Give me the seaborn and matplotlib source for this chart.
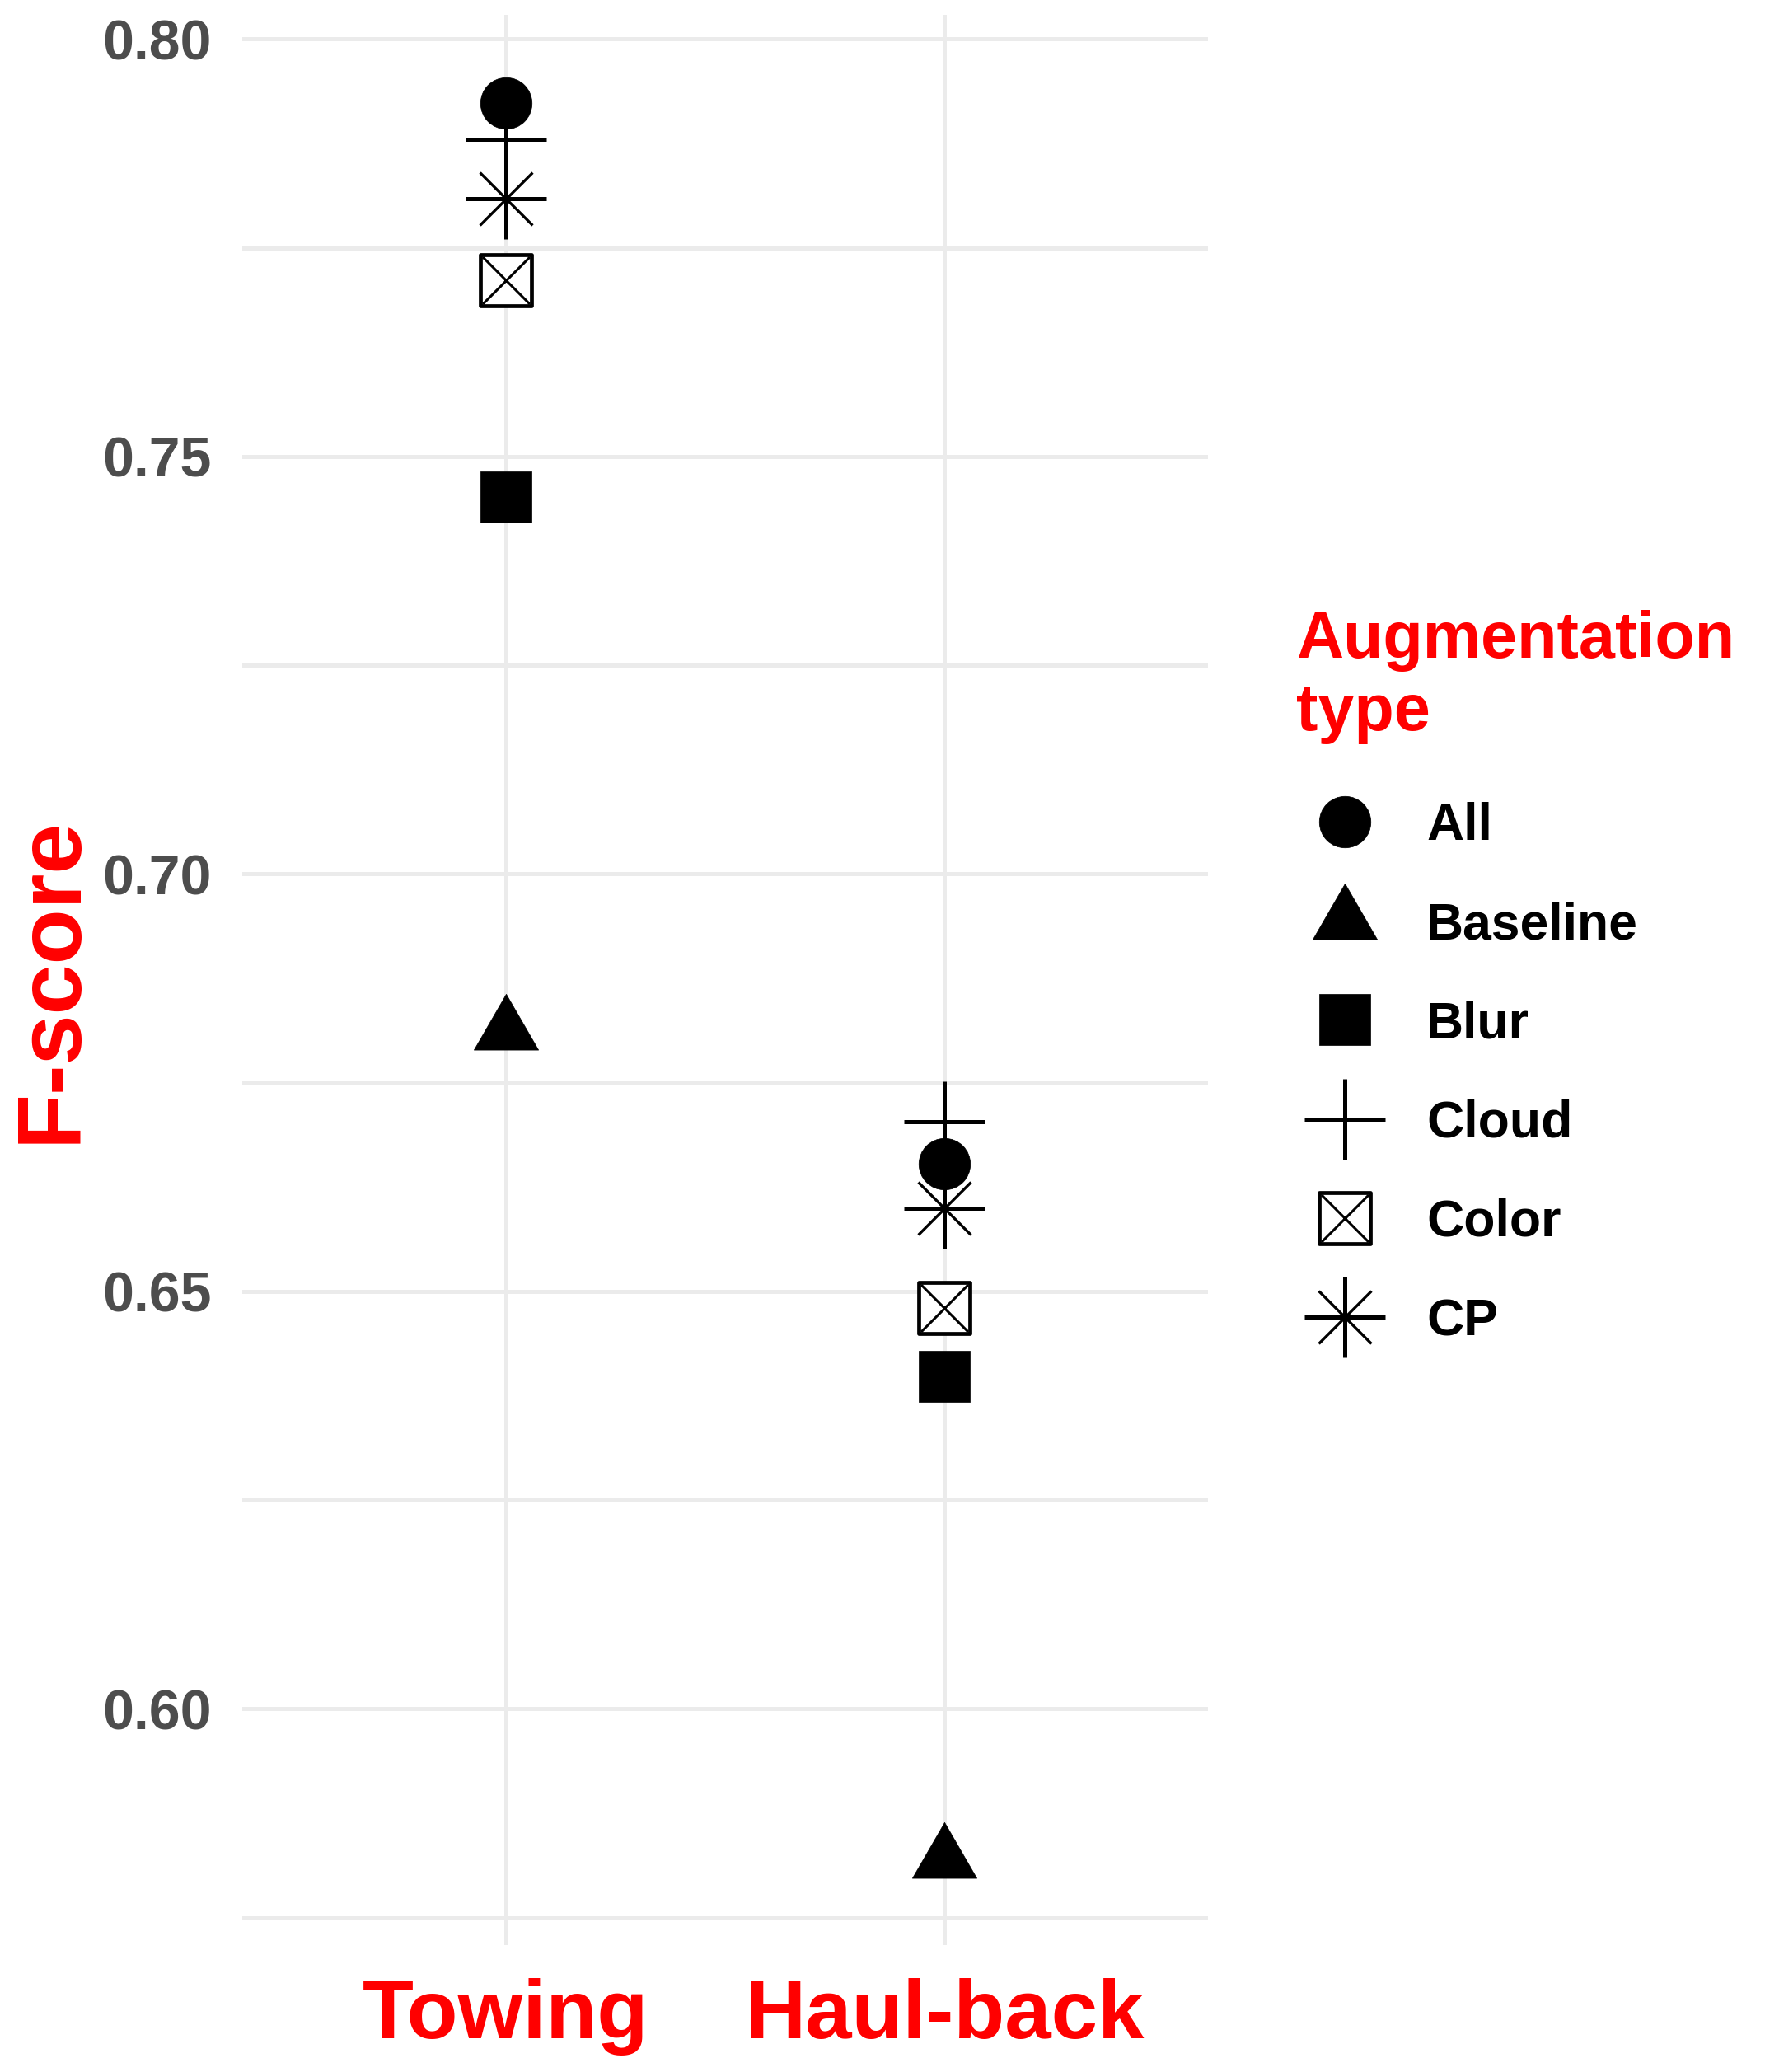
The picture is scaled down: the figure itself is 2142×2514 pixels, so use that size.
import numpy as np
import pandas as pd
import seaborn as sns
from matplotlib import pyplot as plt
from matplotlib.path import Path
from matplotlib.legend_handler import HandlerTuple

# Values
phases = ['Towing', 'Haul-back']
augmentations = ['All', 'Baseline', 'Blur', 'Cloud', 'Color', 'CP']
towing_scores = [0.7923, 0.6812, 0.7451, 0.7880, 0.7711, 0.7809]
haulback_scores = [0.6653, 0.5820, 0.6398, 0.6703, 0.6480, 0.6600]
y_ticks = [0.60, 0.65, 0.70, 0.75, 0.80]
y_minor = [0.575, 0.625, 0.675, 0.725, 0.775]

df = pd.DataFrame({
    'Phase': np.repeat(phases, len(augmentations)),
    'Augmentation': augmentations * len(phases),
    'F-score': towing_scores + haulback_scores,
})

# Triangle centred on its centroid, like R's pch 17
tri = Path([(0, 1.5551), (1.3468, -0.7776), (-1.3468, -0.7776), (0, 1.5551)],
           [Path.MOVETO, Path.LINETO, Path.LINETO, Path.CLOSEPOLY])

# Each augmentation is drawn as one or more marker layers
layers = {
    'All': [dict(marker='o', s=45 ** 2, color='black', edgecolor='black', linewidth=0.5)],
    'Baseline': [dict(marker=tri, s=65 ** 2, color='black', edgecolor='black', linewidth=0.5)],
    'Blur': [dict(marker='s', s=45 ** 2, color='black', edgecolor='black', linewidth=0.5)],
    'Cloud': [dict(marker='+', s=70 ** 2, color='black', linewidth=3.6)],
    'Color': [dict(marker='s', s=45 ** 2, color='white', edgecolor='black', linewidth=3.4),
              dict(marker='x', s=41 ** 2, color='black', linewidth=2.2)],
    'CP': [dict(marker='+', s=70 ** 2, color='black', linewidth=3.6),
           dict(marker='x', s=46 ** 2, color='black', linewidth=2.4)],
}

sns.set_style('white')
plt.rcParams['font.family'] = ['Liberation Sans', 'DejaVu Sans']
plt.rcParams['font.weight'] = 'bold'

fig = plt.figure(figsize=(21.42, 25.14), dpi=100)
ax = fig.add_axes([294 / 2142, 1 - 2360 / 2514, 1172 / 2142, 2342 / 2514])

handles = []
for name in augmentations:
    sub = df[df['Augmentation'] == name]
    hs = []
    for kws in layers[name]:
        sns.scatterplot(data=sub, x='Phase', y='F-score', ax=ax, zorder=3,
                        legend=False, **kws)
        hs.append(ax.collections[-1])
    handles.append(tuple(hs) if len(hs) > 1 else hs[0])

# Axes settings
ax.set_xlim(-0.6, 1.6)
ax.set_ylim(0.5717, 0.8029)
ax.set_xticks([0, 1])
ax.set_xticklabels(phases)
ax.set_yticks(y_ticks)
ax.set_yticklabels([f'{t:.2f}' for t in y_ticks])
ax.set_yticks(y_minor, minor=True)
ax.set_axisbelow(True)
ax.grid(True, which='major', color='#EBEBEB', linewidth=3.6)
ax.grid(True, which='minor', axis='y', color='#EBEBEB', linewidth=3.6)
for sp in ax.spines.values():
    sp.set_visible(False)

ax.tick_params(axis='both', which='both', length=0)
ax.tick_params(axis='y', labelsize=49, labelcolor='#4D4D4D', pad=26.6)
ax.tick_params(axis='x', labelsize=73, labelcolor='red', pad=29)
for lab in ax.get_xticklabels() + ax.get_yticklabels():
    lab.set_fontweight('bold')

ax.set_xlabel('')
ax.set_ylabel('F-score', fontsize=79, color='red', fontweight='bold')
ax.yaxis.set_label_coords(-0.153, 0.5)

leg = ax.legend(handles, augmentations,
                loc='upper left',
                bbox_to_anchor=(1573 / 2142, 1 - 740 / 2514),
                bbox_transform=fig.transFigure,
                frameon=False,
                prop={'family': 'Liberation Sans', 'weight': 'bold', 'size': 45},
                title='Augmentation\ntype',
                title_fontproperties={'family': 'Liberation Sans', 'weight': 'bold', 'size': 57},
                alignment='left',
                borderpad=0, borderaxespad=0,
                handlelength=1.89, handletextpad=0.64, labelspacing=0.98,
                scatteryoffsets=[0.5],
                handler_map={tuple: HandlerTuple(ndivide=1, pad=0)})
leg.get_title().set_color('red')
leg.get_title().set_linespacing(1.23)
leg._legend_box.sep = 50
for txt in leg.get_texts():
    txt.set_color('black')

fig.savefig('out.png', dpi=100)
plt.close(fig)
